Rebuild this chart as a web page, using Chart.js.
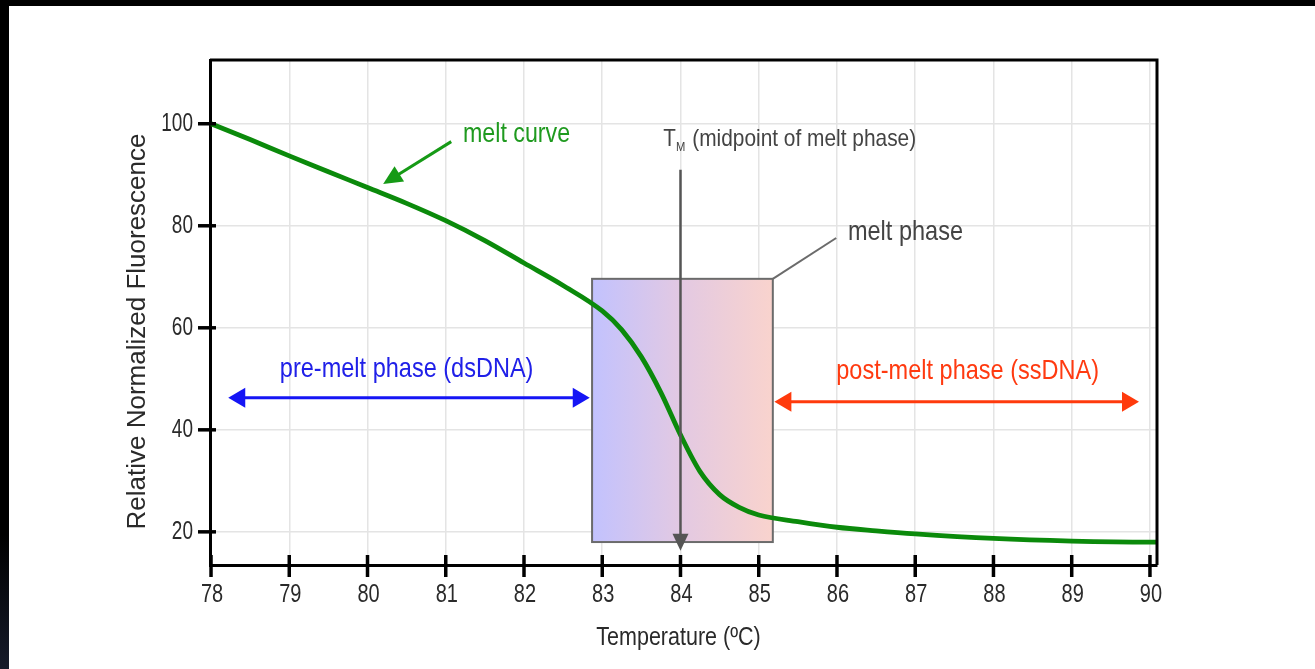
<!DOCTYPE html>
<html>
<head>
<meta charset="utf-8">
<title>Melt curve</title>
<script src="https://cdn.jsdelivr.net/npm/chart.js@4.4.1/dist/chart.umd.min.js"></script>
<style>
    body { margin: 0; background: #fff; overflow: hidden; }
    #wrap { position: relative; width: 1315px; height: 669px; }
    #topBar { position: absolute; left: 0; top: 0; width: 1315px; height: 6px; background: #000; }
    #leftBar { position: absolute; left: 0; top: 0; width: 9px; height: 669px;
        background: linear-gradient(to bottom, #000 0%, #000 80%, #161b2a 100%); }
</style>
</head>
<body>
<div id="wrap">
    <canvas id="meltChart" width="1315" height="669"></canvas>
    <div id="topBar"></div>
    <div id="leftBar"></div>
</div>
<script>
// melt curve readings
var temps = [78, 78.5, 79, 79.5, 80, 80.5, 81, 81.5, 82, 82.5, 83, 83.25, 83.5, 83.75,
    84, 84.25, 84.5, 84.75, 85, 85.5, 86, 86.5, 87, 88, 89, 90, 90.09];
var fluor = [100, 96.9, 93.7, 90.6, 87.5, 84.4, 81.0, 77.1, 72.7, 68.3, 63.3, 59.6, 54.3, 47.3,
    39.0, 31.8, 27.3, 24.8, 23.3, 22.0, 20.9, 20.2, 19.6, 18.7, 18.2, 18.0, 18.0];

var xTicks = [78, 79, 80, 81, 82, 83, 84, 85, 86, 87, 88, 89, 90];
var yTicks = [20, 40, 60, 80, 100];

var xTitle = 'Temperature (ºC)';
var yTitle = 'Relative Normalized Fluorescence';

// phase boundaries and the melting temperature
var meltStart = 82.87;
var meltEnd = 85.18;
var tm = 84;

// no narrow face installed, so narrow text is squeezed by hand
var sans = '"Liberation Sans", Arial, sans-serif';

// where the notes sit, in axis units
var notes = {
    boxTop: 69.6, boxBottom: 18.0,
    curveText: [81.22, 98.0], curveArrow: [81.07, 96.5, 80.2, 88.2],
    tmText: [83.78, 95.7], tmArrow: [91, 16.3],
    phaseText: [86.14, 78.8], phaseLeader: [85.99, 77.6],
    preText: [80.5, 51.8], preArrow: [78.22, 82.84, 46.3],
    postText: [87.67, 51.4], postArrow: [85.2, 89.86, 45.5]
};

function arrowHead(ctx, x1, y1, x2, y2, len, half, color) {
    var a = Math.atan2(y2 - y1, x2 - x1);
    ctx.save();
    ctx.fillStyle = color;
    ctx.translate(x2, y2);
    ctx.rotate(a);
    ctx.beginPath();
    ctx.moveTo(0, 0);
    ctx.lineTo(-len, -half);
    ctx.lineTo(-len, half);
    ctx.closePath();
    ctx.fill();
    ctx.restore();
}

function arrow(ctx, x1, y1, x2, y2, color, width, len, half, both) {
    var a = Math.atan2(y2 - y1, x2 - x1);
    var sx = x1, sy = y1;
    if (both) {
        sx = x1 + Math.cos(a) * (len - 2);
        sy = y1 + Math.sin(a) * (len - 2);
    }
    ctx.save();
    ctx.strokeStyle = color;
    ctx.lineWidth = width;
    ctx.beginPath();
    ctx.moveTo(sx, sy);
    ctx.lineTo(x2 - Math.cos(a) * (len - 2), y2 - Math.sin(a) * (len - 2));
    ctx.stroke();
    ctx.restore();
    arrowHead(ctx, x1, y1, x2, y2, len, half, color);
    if (both) arrowHead(ctx, x2, y2, x1, y1, len, half, color);
}

// text squeezed horizontally by sx; returns the drawn width
function label(ctx, text, x, y, size, color, align, sx, base) {
    ctx.save();
    ctx.font = size + 'px ' + sans;
    ctx.fillStyle = color;
    ctx.textAlign = align || 'center';
    ctx.textBaseline = base || 'middle';
    ctx.translate(x, y);
    ctx.scale(sx || 1, 1);
    ctx.fillText(text, 0, 0);
    var w = ctx.measureText(text).width * (sx || 1);
    ctx.restore();
    return w;
}

var meltNotes = {
    id: 'meltNotes',
    beforeDatasetsDraw: function (chart) {
        var ctx = chart.ctx;
        var xs = chart.scales.x, ys = chart.scales.y;
        var x1 = xs.getPixelForValue(meltStart), x2 = xs.getPixelForValue(meltEnd);
        var y1 = ys.getPixelForValue(notes.boxTop), y2 = ys.getPixelForValue(notes.boxBottom);
        var g = ctx.createLinearGradient(x1, 0, x2, 0);
        g.addColorStop(0, '#c2c2fe');
        g.addColorStop(0.5, '#e3c9e2');
        g.addColorStop(1, '#f9d3cd');
        ctx.save();
        ctx.fillStyle = g;
        ctx.fillRect(x1, y1, x2 - x1, y2 - y1);
        ctx.strokeStyle = '#6b6b6b';
        ctx.lineWidth = 2;
        ctx.strokeRect(x1, y1, x2 - x1, y2 - y1);
        // leader to the "melt phase" text
        ctx.beginPath();
        ctx.moveTo(x2, y1);
        ctx.lineTo(xs.getPixelForValue(notes.phaseLeader[0]), ys.getPixelForValue(notes.phaseLeader[1]));
        ctx.stroke();
        ctx.restore();
    },
    afterDatasetsDraw: function (chart) {
        var ctx = chart.ctx;
        var xs = chart.scales.x, ys = chart.scales.y;
        function px(v) { return xs.getPixelForValue(v); }
        function py(v) { return ys.getPixelForValue(v); }

        // Tm marker
        arrow(ctx, px(tm), py(notes.tmArrow[0]), px(tm), py(notes.tmArrow[1]), '#555', 2.5, 17, 8, false);
        var tx = px(notes.tmText[0]), ty = py(notes.tmText[1]);
        var tw = label(ctx, 'T', tx, ty, 24, '#444', 'left', 0.86, 'alphabetic');
        var mw = label(ctx, 'M', tx + tw, ty + 5, 13, '#444', 'left', 0.86, 'alphabetic');
        label(ctx, '(midpoint of melt phase)', tx + tw + mw + 7, ty, 24, '#444', 'left', 0.87, 'alphabetic');

        label(ctx, 'melt phase', px(notes.phaseText[0]), py(notes.phaseText[1]), 28, '#444', 'left', 0.84);

        // melt curve pointer
        var c = notes.curveArrow;
        arrow(ctx, px(c[0]), py(c[1]), px(c[2]), py(c[3]), '#169a16', 3, 19, 9, false);
        label(ctx, 'melt curve', px(notes.curveText[0]), py(notes.curveText[1]), 28, '#1f9a1f', 'left', 0.83);

        // phase spans
        var pa = notes.preArrow, pb = notes.postArrow;
        arrow(ctx, px(pa[1]), py(pa[2]), px(pa[0]), py(pa[2]), '#1515f5', 3, 17, 10, true);
        label(ctx, 'pre-melt phase (dsDNA)', px(notes.preText[0]), py(notes.preText[1]), 28, '#2020e8', 'center', 0.84);
        arrow(ctx, px(pb[0]), py(pb[2]), px(pb[1]), py(pb[2]), '#ff3a0c', 3, 17, 10, true);
        label(ctx, 'post-melt phase (ssDNA)', px(notes.postText[0]), py(notes.postText[1]), 28, '#ff3a10', 'center', 0.84);
    },
    afterDraw: function (chart) {
        var ctx = chart.ctx;
        var a = chart.chartArea;
        var xs = chart.scales.x, ys = chart.scales.y;
        ctx.save();
        ctx.strokeStyle = '#000';
        // top and right edges of the frame
        ctx.lineWidth = 3;
        ctx.beginPath();
        ctx.moveTo(a.left, a.top);
        ctx.lineTo(a.right, a.top);
        ctx.lineTo(a.right, a.bottom);
        ctx.stroke();
        // tick marks straddle the axis lines
        ctx.lineWidth = 3.5;
        xs.ticks.forEach(function (t) {
            var x = xs.getPixelForValue(t.value);
            ctx.beginPath();
            ctx.moveTo(x, a.bottom - 10);
            ctx.lineTo(x, a.bottom + 12);
            ctx.stroke();
        });
        ys.ticks.forEach(function (t) {
            var y = ys.getPixelForValue(t.value);
            ctx.beginPath();
            ctx.moveTo(a.left - 12, y);
            ctx.lineTo(a.left + 6, y);
            ctx.stroke();
        });
        ctx.restore();

        // tick labels and axis titles in the narrow face
        xs.ticks.forEach(function (t) {
            label(ctx, String(t.value), xs.getPixelForValue(t.value) + 1, a.bottom + 30, 25, '#2a2a2a', 'center', 0.8);
        });
        ys.ticks.forEach(function (t) {
            label(ctx, String(t.value), a.left - 17, ys.getPixelForValue(t.value), 25, '#2a2a2a', 'right', 0.76);
        });
        label(ctx, xTitle, (a.left + a.right) / 2 - 5, a.bottom + 73, 25, '#2a2a2a', 'center', 0.86);
        ctx.save();
        ctx.translate(138, (a.top + a.bottom) / 2 + 19);
        ctx.rotate(-Math.PI / 2);
        label(ctx, yTitle, 0, 0, 26, '#2a2a2a', 'center', 1);
        ctx.restore();
    }
};

var points = temps.map(function (t, i) { return { x: t, y: fluor[i] }; });

var chart = new Chart(document.getElementById('meltChart'), {
    type: 'line',
    data: {
        datasets: [{
            data: points,
            borderColor: '#0b8a0b',
            borderWidth: 4.8,
            pointRadius: 0,
            cubicInterpolationMode: 'monotone',
            fill: false
        }]
    },
    options: {
        responsive: false,
        animation: false,
        events: [],
        layout: { padding: { left: 0, top: 60, right: 158, bottom: 0 } },
        plugins: { legend: { display: false }, tooltip: { enabled: false } },
        scales: {
            x: {
                type: 'linear',
                min: 77.987,
                max: 90.09,
                afterBuildTicks: function (s) { s.ticks = xTicks.map(function (v) { return { value: v }; }); },
                afterFit: function (s) { s.height = 104; },
                grid: { color: '#e4e4e4', lineWidth: 1.5, drawTicks: false },
                border: { color: '#000', width: 3 },
                ticks: { display: false }
            },
            y: {
                min: 13.5,
                max: 112.5,
                afterBuildTicks: function (s) { s.ticks = yTicks.map(function (v) { return { value: v }; }); },
                afterFit: function (s) { s.width = 210; },
                grid: { color: '#e4e4e4', lineWidth: 1.5, drawTicks: false },
                border: { color: '#000', width: 3 },
                ticks: { display: false }
            }
        }
    },
    plugins: [meltNotes]
});
</script>
</body>
</html>
